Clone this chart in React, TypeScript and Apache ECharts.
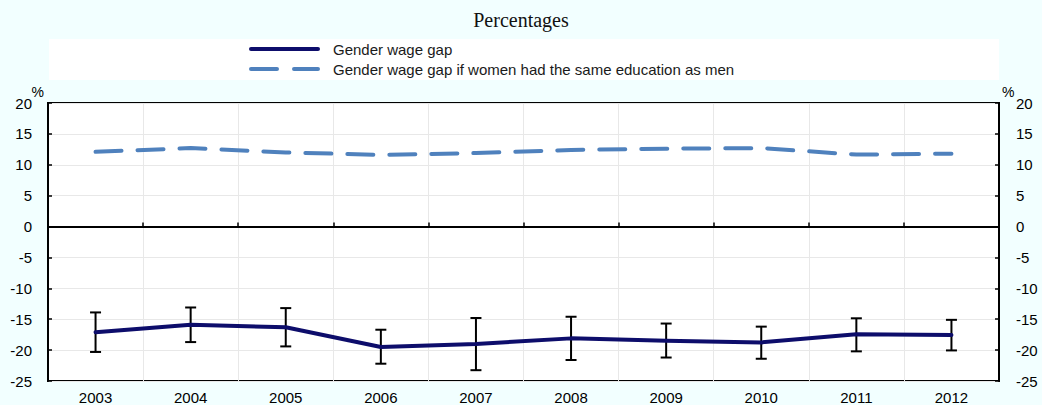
import React, { useEffect, useRef } from "react";
import * as echarts from "echarts";

const years = ["2003", "2004", "2005", "2006", "2007", "2008", "2009", "2010", "2011", "2012"];
const wageGap = [-17.1, -15.9, -16.3, -19.5, -19.0, -18.1, -18.5, -18.75, -17.45, -17.55];
const gapLow = [-20.3, -18.7, -19.4, -22.2, -23.25, -21.6, -21.2, -21.4, -20.2, -20.05];
const gapHigh = [-13.9, -13.1, -13.2, -16.7, -14.8, -14.6, -15.7, -16.2, -14.85, -15.1];
const sameEducation = [12.1, 12.7, 12.0, 11.6, 11.9, 12.4, 12.6, 12.7, 11.65, 11.8];

const seriesNames = ["Gender wage gap", "Gender wage gap if women had the same education as men"];

const FONT = "'Liberation Sans', Arial, sans-serif";

export default function App() {
  const ref = useRef<HTMLDivElement>(null);

  useEffect(() => {
    if (!ref.current) return;
    const chart = echarts.init(ref.current, null, { renderer: "svg" });
    const errData = years.map((_, i) => [i, gapLow[i], gapHigh[i]]);

    const yAxisCommon = {
      type: "value",
      min: -25,
      max: 20,
      interval: 5,
      nameMoveOverlap: false,
      axisLine: { show: true, lineStyle: { color: "#000", width: 2 } },
      axisTick: { show: true, inside: true, length: 4, lineStyle: { color: "#000", width: 1.5 } },
      nameTextStyle: { color: "#000", fontFamily: FONT, fontSize: 14 },
    };

    chart.setOption({
      animation: false,
      backgroundColor: "#F2FFFF",
      title: {
        text: "Percentages",
        left: "center",
        top: 5,
        textStyle: { fontFamily: "'Liberation Serif', 'Times New Roman', serif", fontSize: 20, fontWeight: "normal", color: "#111" },
      },
      graphic: [
        { type: "rect", z: 0, shape: { x: 49, y: 39, width: 950, height: 41 }, style: { fill: "#ffffff" }, silent: true },
      ],
      legend: {
        orient: "vertical",
        left: 249,
        top: 41,
        padding: 0,
        itemWidth: 67,
        itemHeight: 4,
        itemGap: 4,
        itemStyle: { opacity: 0 },
        textStyle: { fontFamily: FONT, fontSize: 15, color: "#1a1a1a", lineHeight: 16, padding: [0, 0, 0, 10] },
        data: [
          { name: seriesNames[0], lineStyle: { width: 4, type: "solid", cap: "round" } },
          { name: seriesNames[1], lineStyle: { width: 4, type: [26, 17], cap: "round" } },
        ],
      },
      grid: {
        left: 48,
        top: 103,
        width: 951,
        height: 278,
        show: true,
        backgroundColor: "#ffffff",
        borderColor: "#000",
        borderWidth: 2,
      },
      xAxis: {
        type: "category",
        data: years,
        boundaryGap: true,
        axisLine: { show: true, lineStyle: { color: "#000", width: 2 } },
        axisTick: { show: true, inside: true, length: 4, interval: 0, lineStyle: { color: "#000", width: 1.5 } },
        axisLabel: { color: "#000", fontFamily: FONT, fontSize: 15, margin: 9, interval: 0 },
        splitLine: { show: true, interval: 0, lineStyle: { color: "#e8e8e8", width: 1 } },
      },
      yAxis: [
        {
          ...yAxisCommon,
          position: "left",
          name: "%",
          nameLocation: "end",
          nameGap: 4,
          nameTextStyle: { ...yAxisCommon.nameTextStyle, align: "right", verticalAlign: "bottom", padding: [0, 4, 0, 0] },
          axisLabel: { color: "#000", fontFamily: FONT, fontSize: 15, margin: 16 },
          splitLine: { show: true, lineStyle: { color: "#e8e8e8", width: 1 } },
        },
        {
          ...yAxisCommon,
          position: "right",
          name: "%",
          nameLocation: "end",
          nameGap: 4,
          nameTextStyle: { ...yAxisCommon.nameTextStyle, align: "left", verticalAlign: "bottom", padding: [0, 0, 0, 3] },
          axisLabel: { color: "#000", fontFamily: FONT, fontSize: 15, margin: 17 },
          splitLine: { show: false },
        },
      ],
      series: [
        {
          type: "custom",
          name: "error",
          data: errData,
          encode: { x: 0, y: [1, 2] },
          z: 2,
          silent: true,
          renderItem: (params: any, api: any) => {
            const idx = api.value(0);
            const lo = api.coord([idx, api.value(1)]);
            const hi = api.coord([idx, api.value(2)]);
            const hw = 5.5;
            const st = { stroke: "#000", lineWidth: 2 };
            return {
              type: "group",
              children: [
                { type: "line", shape: { x1: lo[0], y1: lo[1], x2: hi[0], y2: hi[1] }, style: st },
                { type: "line", shape: { x1: lo[0] - hw, y1: lo[1], x2: lo[0] + hw, y2: lo[1] }, style: st },
                { type: "line", shape: { x1: hi[0] - hw, y1: hi[1], x2: hi[0] + hw, y2: hi[1] }, style: st },
              ],
            };
          },
        },
        {
          type: "line",
          name: seriesNames[0],
          data: wageGap,
          symbol: "none",
          z: 3,
          lineStyle: { color: "#0d0d6b", width: 4, cap: "round", join: "round" },
          itemStyle: { color: "#0d0d6b" },
          markLine: {
            silent: true,
            symbol: "none",
            label: { show: false },
            lineStyle: { color: "#000", width: 2, type: "solid" },
            data: [{ yAxis: 0 }],
          },
        },
        {
          type: "line",
          name: seriesNames[1],
          data: sameEducation,
          symbol: "none",
          z: 3,
          lineStyle: { color: "#4f81bd", width: 4, type: [26, 16], cap: "round", join: "round" },
          itemStyle: { color: "#4f81bd" },
        },
      ],
    });

    return () => chart.dispose();
  }, []);

  return <div ref={ref} style={{ position: "fixed", left: 0, top: 0, width: 1042, height: 405 }} />;
}
